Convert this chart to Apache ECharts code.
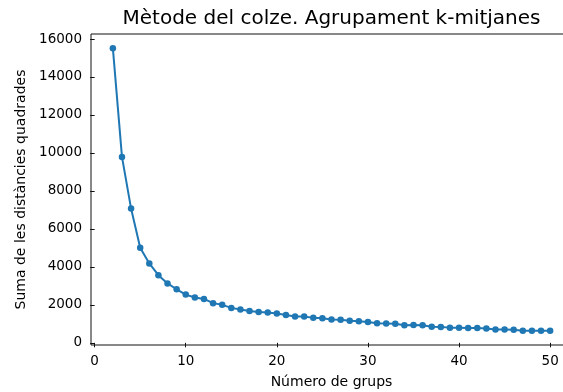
<!DOCTYPE html>
<html>
<head>
<meta charset="utf-8">
<script src="https://cdn.jsdelivr.net/npm/echarts@6/dist/echarts.min.js"></script>
<style>
  html, body { margin: 0; padding: 0; background: #fff; }
  #chart { width: 563px; height: 392px; }
</style>
</head>
<body>
<div id="chart"></div>
<script>
// Number of clusters k and the within-cluster sum of squared distances (inertia)
const groups = [2, 3, 4, 5, 6, 7, 8, 9, 10, 11, 12, 13, 14, 15, 16, 17, 18, 19, 20, 21,
  22, 23, 24, 25, 26, 27, 28, 29, 30, 31, 32, 33, 34, 35, 36, 37, 38, 39, 40, 41,
  42, 43, 44, 45, 46, 47, 48, 49, 50];
const inertia = [15520, 9790, 7070, 5010, 4180, 3560, 3130, 2820, 2540, 2390, 2310, 2090,
  2000, 1840, 1760, 1680, 1620, 1600, 1540, 1470, 1390, 1380, 1320, 1300, 1230, 1210,
  1160, 1140, 1100, 1030, 1020, 1000, 930, 940, 930, 850, 840, 800, 790, 780, 780, 760,
  700, 700, 690, 640, 630, 630, 630];
const xTicks = [0, 10, 20, 30, 40, 50];
const yTicks = [0, 2000, 4000, 6000, 8000, 10000, 12000, 14000, 16000];

const titleText = 'Mètode del colze. Agrupament k-mitjanes';
const xLabelText = 'Número de grups';
const yLabelText = 'Suma de les distàncies quadrades';

// Axis limits padded by 5% of the data range on each side
const xMinData = Math.min(...groups), xMaxData = Math.max(...groups);
const yMinData = Math.min(...inertia), yMaxData = Math.max(...inertia);
const xPad = (xMaxData - xMinData) * 0.05;
const yPad = (yMaxData - yMinData) * 0.05;

const FONT = 'DejaVu Sans';
const TICK_FONT = 13.5;
const chart = echarts.init(document.getElementById('chart'), null, { renderer: 'canvas' });

// Plot frame; it runs a little past the right edge of the canvas
const plot = { left: 91, top: 34, width: 481, height: 311 };
const plotCenterX = plot.left + plot.width / 2;
const plotCenterY = plot.top + plot.height / 2;

chart.setOption({
  animation: false,
  backgroundColor: '#ffffff',
  textStyle: { fontFamily: FONT },
  grid: {
    left: plot.left, top: plot.top, width: plot.width, height: plot.height,
    outerBoundsMode: 'none', containLabel: false,
    show: true, borderColor: '#111', borderWidth: 1, backgroundColor: 'transparent'
  },
  graphic: [
    {
      type: 'text', x: plotCenterX, y: 19,
      style: { text: titleText, font: '20px "DejaVu Sans"', fill: '#000',
        textAlign: 'center', textVerticalAlign: 'middle' }
    },
    {
      type: 'text', x: plotCenterX, y: 382,
      style: { text: xLabelText, font: '14px "DejaVu Sans"', fill: '#000',
        textAlign: 'center', textVerticalAlign: 'middle' }
    },
    {
      type: 'text', x: 21, y: plotCenterY, rotation: Math.PI / 2,
      style: { text: yLabelText, font: '14px "DejaVu Sans"', fill: '#000',
        textAlign: 'center', textVerticalAlign: 'middle' }
    }
  ],
  xAxis: {
    type: 'value',
    min: xMinData - xPad,
    max: xMaxData + xPad,
    axisLine: { show: false },
    splitLine: { show: false },
    axisTick: { show: true, inside: false, length: 4.5, customValues: xTicks,
      lineStyle: { color: '#111', width: 1 } },
    axisLabel: { customValues: xTicks, margin: 9, color: '#000', fontSize: TICK_FONT,
      fontFamily: FONT, formatter: v => String(v) }
  },
  yAxis: {
    type: 'value',
    min: yMinData - yPad,
    max: yMaxData + yPad,
    axisLine: { show: false },
    splitLine: { show: false },
    axisTick: { show: true, inside: false, length: 4.5, customValues: yTicks,
      lineStyle: { color: '#111', width: 1 } },
    axisLabel: { customValues: yTicks, margin: 9, color: '#000', fontSize: TICK_FONT,
      fontFamily: FONT, formatter: v => String(v) }
  },
  series: [{
    type: 'line',
    data: groups.map((k, i) => [k, inertia[i]]),
    symbol: 'circle',
    symbolSize: 6.5,
    showSymbol: true,
    lineStyle: { color: '#1f77b4', width: 2 },
    itemStyle: { color: '#1f77b4', borderWidth: 0 },
    emphasis: { disabled: true }
  }]
});
</script>
</body>
</html>
